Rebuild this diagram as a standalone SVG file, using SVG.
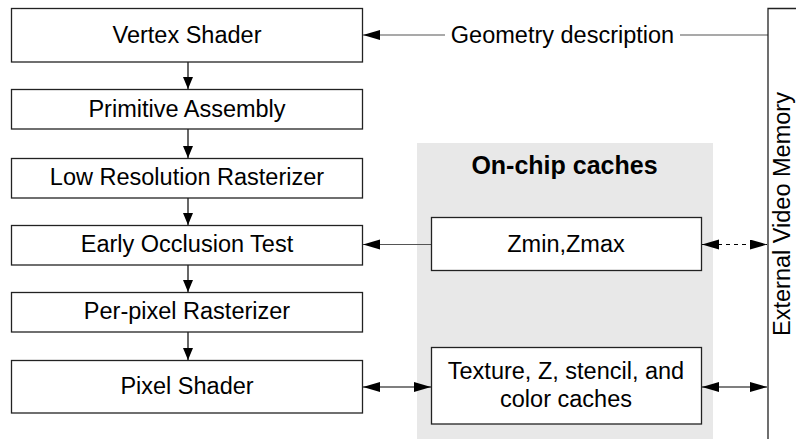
<svg xmlns="http://www.w3.org/2000/svg" width="796" height="439" viewBox="0 0 796 439">
  <defs>
    <style>
      .box { fill: #ffffff; stroke: #222222; stroke-width: 1.3; }
      .lbl { font-family: "Liberation Sans", Arial, sans-serif; font-size: 23.5px; fill: #000000; text-anchor: middle; }
      .bold { font-weight: bold; font-size: 25px; }
      .conn { fill: none; stroke: #000000; stroke-width: 1.2; }
      .thin { fill: none; stroke: #555555; stroke-width: 1.2; }
    </style>
    <marker id="ah" markerUnits="userSpaceOnUse" markerWidth="18" markerHeight="12" refX="17" refY="5" orient="auto-start-reverse">
      <path d="M0,0 L17,5 L0,10 Z" fill="#000000"/>
    </marker>
    <marker id="av" markerUnits="userSpaceOnUse" markerWidth="13" markerHeight="11" refX="12" refY="5" orient="auto">
      <path d="M0,0 L12,5 L0,10 Z" fill="#000000"/>
    </marker>
  </defs>

  <rect id="onchip-bg" x="417" y="143" width="296" height="296" fill="#e8e8e8"/>

  <g id="connectors">
    <line class="conn" x1="188" y1="62" x2="188" y2="89" marker-end="url(#av)"/>
    <line class="conn" x1="188" y1="129" x2="188" y2="158" marker-end="url(#av)"/>
    <line class="conn" x1="188" y1="198" x2="188" y2="225" marker-end="url(#av)"/>
    <line class="conn" x1="188" y1="265" x2="188" y2="292" marker-end="url(#av)"/>
    <line class="conn" x1="188" y1="332" x2="188" y2="360" marker-end="url(#av)"/>
    <line class="thin" x1="445" y1="35" x2="363" y2="35" marker-end="url(#ah)"/>
    <line class="thin" x1="680" y1="35" x2="768" y2="35"/>
    <line class="thin" x1="431" y1="244.5" x2="363" y2="244.5" marker-end="url(#ah)"/>
    <line class="conn" x1="702" y1="244.5" x2="767" y2="244.5" stroke-dasharray="4,4" marker-start="url(#ah)" marker-end="url(#ah)"/>
    <line class="conn" x1="363" y1="387" x2="431" y2="387" marker-start="url(#ah)" marker-end="url(#ah)"/>
    <line class="conn" x1="702" y1="387" x2="767" y2="387" marker-start="url(#ah)" marker-end="url(#ah)"/>
  </g>

  <g id="vertex-shader">
    <rect class="box" x="11.5" y="8.5" width="351" height="53.5"/>
    <text class="lbl" x="187" y="43">Vertex Shader</text>
  </g>
  <g id="primitive-assembly">
    <rect class="box" x="11.5" y="89.5" width="351" height="39.5"/>
    <text class="lbl" x="187" y="117">Primitive Assembly</text>
  </g>
  <g id="low-res-rasterizer">
    <rect class="box" x="11.5" y="158.5" width="351" height="39.5"/>
    <text class="lbl" x="187" y="185">Low Resolution Rasterizer</text>
  </g>
  <g id="early-occlusion-test">
    <rect class="box" x="11.5" y="225.5" width="351" height="39.5"/>
    <text class="lbl" x="187" y="252">Early Occlusion Test</text>
  </g>
  <g id="per-pixel-rasterizer">
    <rect class="box" x="11.5" y="292.5" width="351" height="39.5"/>
    <text class="lbl" x="187" y="319">Per-pixel Rasterizer</text>
  </g>
  <g id="pixel-shader">
    <rect class="box" x="11.5" y="360.5" width="351" height="52.5"/>
    <text class="lbl" x="187" y="394">Pixel Shader</text>
  </g>

  <g id="geometry-description">
    <text class="lbl" x="562.5" y="43">Geometry description</text>
  </g>

  <g id="on-chip-caches">
    <text class="lbl bold" x="564.5" y="174">On-chip caches</text>
  </g>

  <g id="zmin-zmax">
    <rect class="box" x="431.5" y="217.5" width="270" height="53"/>
    <text class="lbl" x="566" y="252">Zmin,Zmax</text>
  </g>

  <g id="texture-caches">
    <rect class="box" x="431.5" y="347.5" width="270" height="76.5"/>
    <text class="lbl" x="566" y="378.5">Texture, Z, stencil, and</text>
    <text class="lbl" x="566" y="407">color caches</text>
  </g>

  <g id="external-video-memory">
    <path d="M800,8.5 H768 V440" fill="none" stroke="#222222" stroke-width="1.3"/>
    <text class="lbl" transform="translate(790,214) rotate(-90)" x="0" y="0">External Video Memory</text>
  </g>
</svg>
